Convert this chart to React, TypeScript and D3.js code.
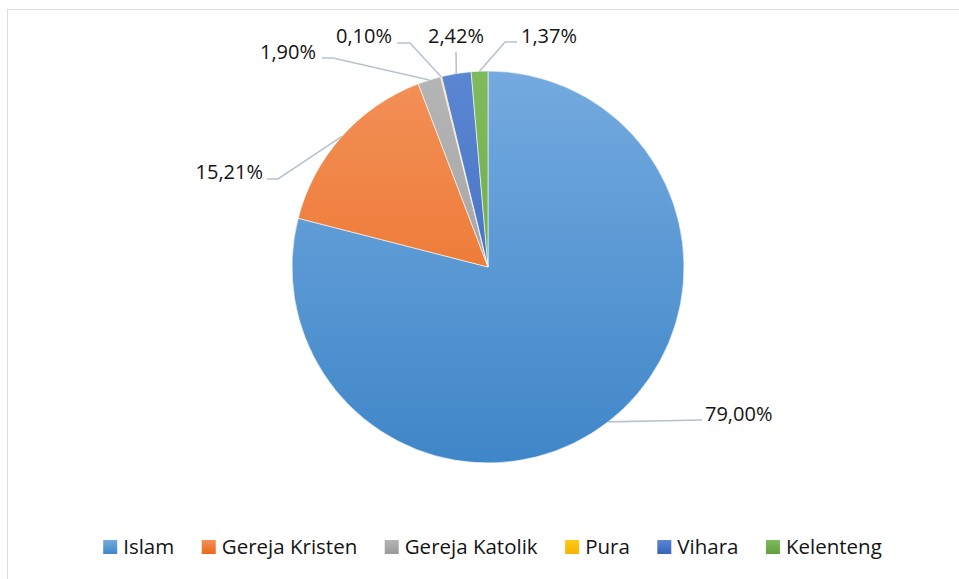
import React, { useEffect, useRef } from "react";
import * as d3 from "d3";

const categories = ["Islam", "Gereja Kristen", "Gereja Katolik", "Pura", "Vihara", "Kelenteng"];
const values = [79.0, 15.21, 1.9, 0.1, 2.42, 1.37];
const labels = ["79,00%", "15,21%", "1,90%", "0,10%", "2,42%", "1,37%"];
const topColors = ["#74aadf", "#f39058", "#b5b5b5", "#ffc81a", "#5b86d2", "#80ba5e"];
const bottomColors = ["#3f86c8", "#e9691b", "#999999", "#f5b400", "#3864bb", "#62a03c"];

// label layout (text anchor point + leader points after slice edge)
const labelLayout = [
  { tx: 705, ty: 421, anchor: "start", pts: [[702, 420]] },
  { tx: 263, ty: 179, anchor: "end", pts: [[278, 179], [267, 179]] },
  { tx: 316, ty: 59, anchor: "end", pts: [[333, 58], [322, 58]] },
  { tx: 392, ty: 43, anchor: "end", pts: [[410, 43], [397, 43]] },
  { tx: 456, ty: 43, anchor: "middle", pts: [[456, 52]] },
  { tx: 521, ty: 43, anchor: "start", pts: [[505, 42], [517, 42]] },
];

const W = 959;
const H = 579;
const CX = 488;
const CY = 267;
const R = 196;
const FONT = "'Open Sans', 'Noto Sans', sans-serif";

export default function App() {
  const ref = useRef<SVGSVGElement>(null);

  useEffect(() => {
    const svg = d3.select(ref.current);
    svg.selectAll("*").remove();

    const defs = svg.append("defs");
    categories.forEach((_, i) => {
      const g = defs
        .append("linearGradient")
        .attr("id", `pg${i}`)
        .attr("gradientUnits", "userSpaceOnUse")
        .attr("x1", 0)
        .attr("x2", 0)
        .attr("y1", -R)
        .attr("y2", R);
      g.append("stop").attr("offset", "0%").attr("stop-color", topColors[i]);
      g.append("stop").attr("offset", "100%").attr("stop-color", bottomColors[i]);
      const s = defs
        .append("linearGradient")
        .attr("id", `sg${i}`)
        .attr("x1", 0)
        .attr("x2", 0)
        .attr("y1", 0)
        .attr("y2", 1);
      s.append("stop").attr("offset", "0%").attr("stop-color", topColors[i]);
      s.append("stop").attr("offset", "100%").attr("stop-color", bottomColors[i]);
    });

    // chart border
    svg
      .append("rect")
      .attr("x", 7.5)
      .attr("y", 9.5)
      .attr("width", W + 10)
      .attr("height", H + 10)
      .attr("fill", "white")
      .attr("stroke", "#d9dde3")
      .attr("stroke-width", 1);

    const pie = d3
      .pie<number>()
      .sort(null)
      .value((d) => d)
      .startAngle(0)
      .endAngle(2 * Math.PI);
    const arcs = pie(values);
    const arc = d3.arc<d3.PieArcDatum<number>>().innerRadius(0).outerRadius(R);

    const g = svg.append("g").attr("transform", `translate(${CX},${CY})`);
    g.selectAll("path")
      .data(arcs)
      .join("path")
      .attr("d", arc as any)
      .attr("fill", (_, i) => `url(#pg${i})`)
      .attr("stroke", "white")
      .attr("stroke-width", 0.6);

    // leader lines and labels
    const line = d3.line();
    arcs.forEach((a, i) => {
      const mid = (a.startAngle + a.endAngle) / 2;
      const ex = CX + R * Math.sin(mid);
      const ey = CY - R * Math.cos(mid);
      const L = labelLayout[i];
      const pts: [number, number][] = [[ex, ey], ...(L.pts as [number, number][])];
      svg
        .append("path")
        .attr("d", line(pts))
        .attr("fill", "none")
        .attr("stroke", "#b8c3d1")
        .attr("stroke-width", 1.6);
      svg
        .append("text")
        .attr("x", L.tx)
        .attr("y", L.ty)
        .attr("text-anchor", L.anchor)
        .attr("font-family", FONT)
        .attr("font-size", 20)
        .attr("fill", "#141414")
        .text(labels[i]);
    });

    // legend
    const legend = svg.append("g");
    const sw = 14;
    const gapSwText = 6;
    const gapItem = 27.5;
    const items = categories.map((c, i) => {
      const item = legend.append("g");
      item
        .append("rect")
        .attr("x", 0)
        .attr("y", 540)
        .attr("width", sw)
        .attr("height", sw)
        .attr("fill", `url(#sg${i})`);
      const t = item
        .append("text")
        .attr("x", sw + gapSwText)
        .attr("y", 554)
        .attr("font-family", FONT)
        .attr("font-size", 20.5)
        .attr("fill", "#141414")
        .text(c);
      const tw = (t.node() as SVGTextElement).getComputedTextLength();
      return { item, w: sw + gapSwText + tw };
    });
    const total = d3.sum(items, (d) => d.w) + gapItem * (items.length - 1);
    let x = 492.5 - total / 2;
    items.forEach((d) => {
      d.item.attr("transform", `translate(${x},0)`);
      x += d.w + gapItem;
    });
  }, []);

  return (
    <svg
      ref={ref}
      width={W}
      height={H}
      style={{ position: "absolute", left: 0, top: 0, background: "white" }}
    />
  );
}
